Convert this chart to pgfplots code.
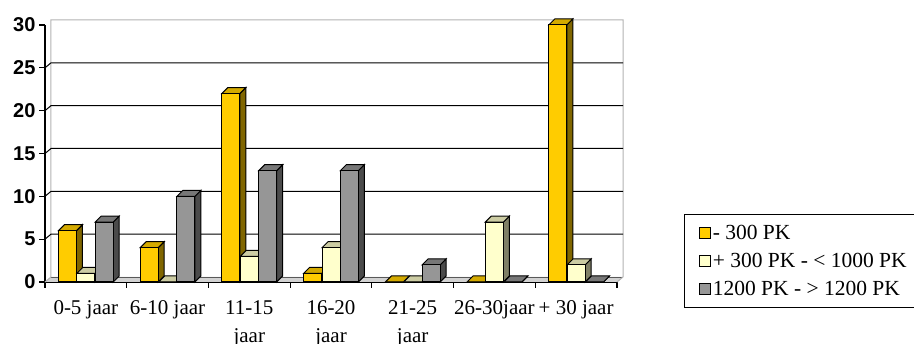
\documentclass[border=0pt]{standalone}
\usepackage{pgfplots}
\usepackage{pgfplotstable}
\pgfplotsset{compat=1.18}
\usepackage{fontspec}
\setmainfont{Liberation Serif}
\newfontfamily\ticksans{Liberation Sans}
\definecolor{yF}{HTML}{FFCC00}
\definecolor{yT}{HTML}{D4AA00}
\definecolor{yS}{HTML}{806600}
\definecolor{lF}{HTML}{FFFFCC}
\definecolor{lT}{HTML}{CCCCA3}
\definecolor{lS}{HTML}{808066}
\definecolor{gF}{HTML}{969696}
\definecolor{gT}{HTML}{777777}
\definecolor{gS}{HTML}{4B4B4B}
\pgfplotstableread{
x a b c
0 6 1 7
1 4 0 10
2 22 3 13
3 1 4 13
4 0 0 2
5 0 7 0
6 30 2 0
}\datatab
% 3D box drawn downwards from the data point; height from the value
\newcommand\boxmark[3]{%
  \pgfsetlinewidth{1pt}%
  \pgfsetstrokecolor{black}%
  \pgfmathsetmacro\hh{\val*257/30}%
  \pgfsetfillcolor{#3}%
  \pgfpathmoveto{\pgfpoint{9pt}{0pt}}%
  \pgfpathlineto{\pgfpoint{15pt}{6pt}}%
  \pgfpathlineto{\pgfpoint{15pt}{6pt-\hh pt}}%
  \pgfpathlineto{\pgfpoint{9pt}{-\hh pt}}%
  \pgfpathclose\pgfusepath{fill,stroke}%
  \pgfsetfillcolor{#2}%
  \pgfpathmoveto{\pgfpoint{-9pt}{0pt}}%
  \pgfpathlineto{\pgfpoint{9pt}{0pt}}%
  \pgfpathlineto{\pgfpoint{15pt}{6pt}}%
  \pgfpathlineto{\pgfpoint{-3pt}{6pt}}%
  \pgfpathclose\pgfusepath{fill,stroke}%
  \pgfsetfillcolor{#1}%
  \pgfpathrectanglecorners{\pgfpoint{-9pt}{-\hh pt}}{\pgfpoint{9pt}{0pt}}%
  \pgfusepath{fill,stroke}%
}
\pgfdeclareplotmark{boxY}{\boxmark{yF}{yT}{yS}}
\pgfdeclareplotmark{boxL}{\boxmark{lF}{lT}{lS}}
\pgfdeclareplotmark{boxG}{\boxmark{gF}{gT}{gS}}
\newcommand\legtext[1]{\makebox[205pt][l]{#1}}
\begin{document}
\begin{tikzpicture}[x=1pt,y=1pt]
\path[use as bounding box] (-45,-62) rectangle (869,282);
\begin{axis}[
  at={(0,0)}, anchor=south west,
  scale only axis, width=572pt, height=257pt,
  xmin=-0.5, xmax=6.5, ymin=0, ymax=30,
  axis x line*=bottom, axis y line*=left,
  axis line style={black, line width=1.1pt},
  xtick={-0.5,0.5,...,6.5},
  x tick label as interval,
  xticklabels={0-5 jaar, 6-10 jaar, {11-15\\jaar}, {16-20\\jaar}, {21-25\\jaar}, 26-30jaar, + 30 jaar},
  xticklabel style={align=center, font=\fontsize{21}{28}\selectfont, yshift=-9pt},
  ytick={0,5,...,30},
  yticklabel style={font=\ticksans\bfseries\fontsize{20}{20}\selectfont},
  /pgf/number format/assume math mode=true,
  tick align=outside, major tick length=6pt,
  tick style={black, line width=1.1pt},
  clip=false,
  legend cell align=left,
  legend style={at={(axis description cs:1.117,0.265)}, anchor=north west,
    draw=black, line width=1pt, font=\fontsize{21.5}{24}\selectfont,
    row sep=8pt, inner xsep=4pt, inner ysep=9pt},
]
% floor and back wall
\fill[gray!35] (axis cs:-0.5,0) -- (axis cs:6.5,0) -- ([shift={(6pt,5pt)}]axis cs:6.5,0) -- ([shift={(6pt,5pt)}]axis cs:-0.5,0) -- cycle;
\draw[gray!70!black, line width=0.8pt] ([shift={(6pt,5pt)}]axis cs:-0.5,0) -- ([shift={(6pt,5pt)}]axis cs:6.5,0);
\draw[gray!60, line width=1pt] (axis cs:-0.5,0) -- ([shift={(6pt,5pt)}]axis cs:-0.5,0) -- ([shift={(6pt,5pt)}]axis cs:-0.5,30) -- ([shift={(6pt,5pt)}]axis cs:6.5,30) -- ([shift={(6pt,5pt)}]axis cs:6.5,0) -- (axis cs:6.5,0);
\pgfplotsinvokeforeach{5,10,15,20,25}{
  \draw[black, line width=1pt] (axis cs:-0.5,#1) -- ([shift={(6pt,5pt)}]axis cs:-0.5,#1) -- ([shift={(6pt,5pt)}]axis cs:6.5,#1);
}
\addplot[only marks, scatter, mark=boxY, visualization depends on={\thisrow{a} \as \val},
  legend image code/.code={\path[draw=none,fill=none] (0pt,-1pt) rectangle (20pt,1pt); \draw[fill=yF, draw=black, line width=0.8pt] (11pt,-5.5pt) rectangle (22pt,5.5pt);}]
  table[x expr=\thisrow{x}-0.225, y=a] {\datatab};
\addlegendentry{\legtext{- 300 PK}}
\addplot[only marks, scatter, mark=boxL, visualization depends on={\thisrow{b} \as \val},
  legend image code/.code={\path[draw=none,fill=none] (0pt,-1pt) rectangle (20pt,1pt); \draw[fill=lF, draw=black, line width=0.8pt] (11pt,-5.5pt) rectangle (22pt,5.5pt);}]
  table[x=x, y=b] {\datatab};
\addlegendentry{\legtext{+ 300 PK - < 1000 PK}}
\addplot[only marks, scatter, mark=boxG, visualization depends on={\thisrow{c} \as \val},
  legend image code/.code={\path[draw=none,fill=none] (0pt,-1pt) rectangle (20pt,1pt); \draw[fill=gF, draw=black, line width=0.8pt] (11pt,-5.5pt) rectangle (22pt,5.5pt);}]
  table[x expr=\thisrow{x}+0.225, y=c] {\datatab};
\addlegendentry{\legtext{1200 PK - > 1200 PK}}
\end{axis}
\end{tikzpicture}
\end{document}
